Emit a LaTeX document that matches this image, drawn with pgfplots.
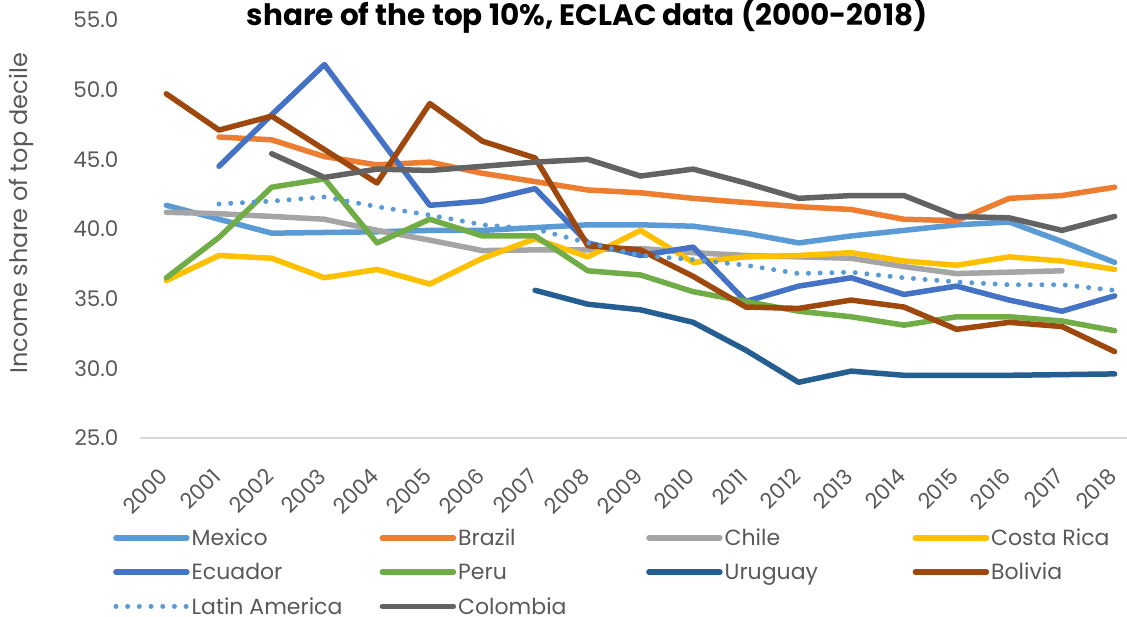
\documentclass[border=0pt]{standalone}
\usepackage{fontspec}
\setmainfont{Poppins}
\usepackage{pgfplots}
\pgfplotsset{compat=1.18}
\definecolor{cMex}{HTML}{5B9BD5}
\definecolor{cBra}{HTML}{ED7D31}
\definecolor{cChi}{HTML}{A5A5A5}
\definecolor{cCos}{HTML}{FFC000}
\definecolor{cEcu}{HTML}{4472C4}
\definecolor{cPer}{HTML}{70AD47}
\definecolor{cUru}{HTML}{255E91}
\definecolor{cBol}{HTML}{9E480E}
\definecolor{cLat}{HTML}{5B9BD5}
\definecolor{cCol}{HTML}{636363}
\definecolor{txt}{HTML}{595959}
\definecolor{axl}{HTML}{D9D9D9}
\begin{document}
\begin{tikzpicture}[x=1pt,y=1pt]
\useasboundingbox (0,0) rectangle (1127,616);
\clip (0,0) rectangle (1127,616);
\begin{axis}[
  at={(140pt,178pt)}, anchor=south west,
  scale only axis, width=1001pt, height=418pt,
  xmin=-0.5, xmax=18.5, ymin=25, ymax=55,
  axis x line=bottom, axis y line=left,
  x axis line style={draw=axl, line width=1.3pt, -},
  y axis line style={draw=none},
  major tick length=0pt,
  xtick={0,...,18},
  xticklabels={2000,2001,2002,2003,2004,2005,2006,2007,2008,2009,2010,2011,2012,2013,2014,2015,2016,2017,2018},
  ytick={25,30,35,40,45,50,55},
  yticklabel={\pgfmathprintnumber[fixed,fixed zerofill,precision=1]{\tick}},
  /pgf/number format/assume math mode=true,
  tick label style={font=\fontsize{21.5}{25}\selectfont, text=txt},
  xticklabel style={xshift=-8pt, yshift=-24pt, rotate=45, anchor=north east},
  yticklabel style={xshift=-18pt},
  ylabel={Income share of top decile},
  ylabel style={at={(axis description cs:-0.118,0.538)}, anchor=center, font=\fontsize{24}{28}\selectfont, text=txt},
  title={share of the top 10\%, ECLAC data (2000-2018)},
  title style={at={(axis description cs:0.4466,0.995)}, anchor=center, font=\fontsize{29.5}{33}\selectfont\bfseries, text=black},
  every axis plot/.append style={line width=5.5pt, line join=round, line cap=round},
  legend columns=4,
  legend cell align=left,
  legend image code/.code={\draw[#1] (0pt,0pt) -- (71pt,0pt);},
  legend style={draw=none, fill=none, at={(axis description cs:-0.027,-0.212)}, anchor=north west,
    font=\fontsize{22}{26}\selectfont, text=txt, row sep=12pt, column sep=0pt, inner sep=0pt},
]
\addplot[cMex] coordinates {(0,41.7)(1,40.7)(2,39.7)(3,39.75)(4,39.8)(5,39.9)(6,39.9)(7,40.1)(8,40.3)(9,40.3)(10,40.2)(11,39.7)(12,39.0)(13,39.5)(14,39.9)(15,40.3)(16,40.5)(17,39.1)(18,37.6)};
\addlegendentry{\makebox[186pt][l]{Mexico}}
\addplot[cBra] coordinates {(1,46.6)(2,46.4)(3,45.2)(4,44.6)(5,44.8)(6,44.0)(7,43.4)(8,42.8)(9,42.6)(10,42.2)(11,41.9)(12,41.6)(13,41.4)(14,40.7)(15,40.6)(16,42.2)(17,42.4)(18,43.0)};
\addlegendentry{\makebox[186pt][l]{Brazil}}
\addplot[cChi] coordinates {(0,41.2)(1,41.1)(2,40.9)(3,40.7)(4,39.9)(5,39.2)(6,38.45)(7,38.5)(8,38.5)(9,38.6)(10,38.3)(11,38.1)(12,38.0)(13,37.9)(14,37.3)(15,36.8)(16,36.9)(17,37.0)};
\addlegendentry{\makebox[186pt][l]{Chile}}
\addplot[cCos] coordinates {(0,36.3)(1,38.1)(2,37.9)(3,36.5)(4,37.1)(5,36.05)(6,37.9)(7,39.3)(8,38.0)(9,39.9)(10,37.6)(11,38.0)(12,38.1)(13,38.3)(14,37.7)(15,37.4)(16,38.0)(17,37.7)(18,37.1)};
\addlegendentry{\makebox[186pt][l]{Costa Rica}}
\addplot[cEcu] coordinates {(1,44.5)(2,48.2)(3,51.8)(4,46.75)(5,41.7)(6,42.0)(7,42.9)(8,39.0)(9,38.1)(10,38.7)(11,34.8)(12,35.9)(13,36.5)(14,35.3)(15,35.9)(16,34.9)(17,34.1)(18,35.2)};
\addlegendentry{\makebox[186pt][l]{Ecuador}}
\addplot[cPer] coordinates {(0,36.5)(1,39.4)(2,43.0)(3,43.6)(4,39.0)(5,40.7)(6,39.5)(7,39.5)(8,37.0)(9,36.7)(10,35.5)(11,34.8)(12,34.1)(13,33.7)(14,33.1)(15,33.7)(16,33.7)(17,33.4)(18,32.7)};
\addlegendentry{\makebox[186pt][l]{Peru}}
\addplot[cUru] coordinates {(7,35.6)(8,34.6)(9,34.2)(10,33.3)(11,31.3)(12,29.0)(13,29.8)(14,29.5)(15,29.5)(16,29.5)(17,29.55)(18,29.6)};
\addlegendentry{\makebox[186pt][l]{Uruguay}}
\addplot[cBol] coordinates {(0,49.7)(1,47.1)(2,48.1)(3,45.7)(4,43.3)(5,49.0)(6,46.3)(7,45.1)(8,38.8)(9,38.5)(10,36.6)(11,34.4)(12,34.3)(13,34.9)(14,34.4)(15,32.8)(16,33.3)(17,33.0)(18,31.2)};
\addlegendentry{\makebox[186pt][l]{Bolivia}}
\addplot[cLat, line width=5pt, dash pattern=on 0pt off 11.7pt] coordinates {(1,41.8)(2,42.0)(3,42.3)(4,41.6)(5,41.0)(6,40.3)(7,40.0)(8,39.0)(9,38.1)(10,37.8)(11,37.4)(12,36.8)(13,36.9)(14,36.5)(15,36.2)(16,36.0)(17,36.0)(18,35.6)};
\addlegendentry{\makebox[186pt][l]{Latin America}}
\addplot[cCol] coordinates {(2,45.4)(3,43.7)(4,44.3)(5,44.2)(6,44.5)(7,44.8)(8,45.0)(9,43.8)(10,44.3)(11,43.3)(12,42.2)(13,42.4)(14,42.4)(15,40.9)(16,40.8)(17,39.9)(18,40.9)};
\addlegendentry{\makebox[186pt][l]{Colombia}}
\end{axis}
\end{tikzpicture}
\end{document}
